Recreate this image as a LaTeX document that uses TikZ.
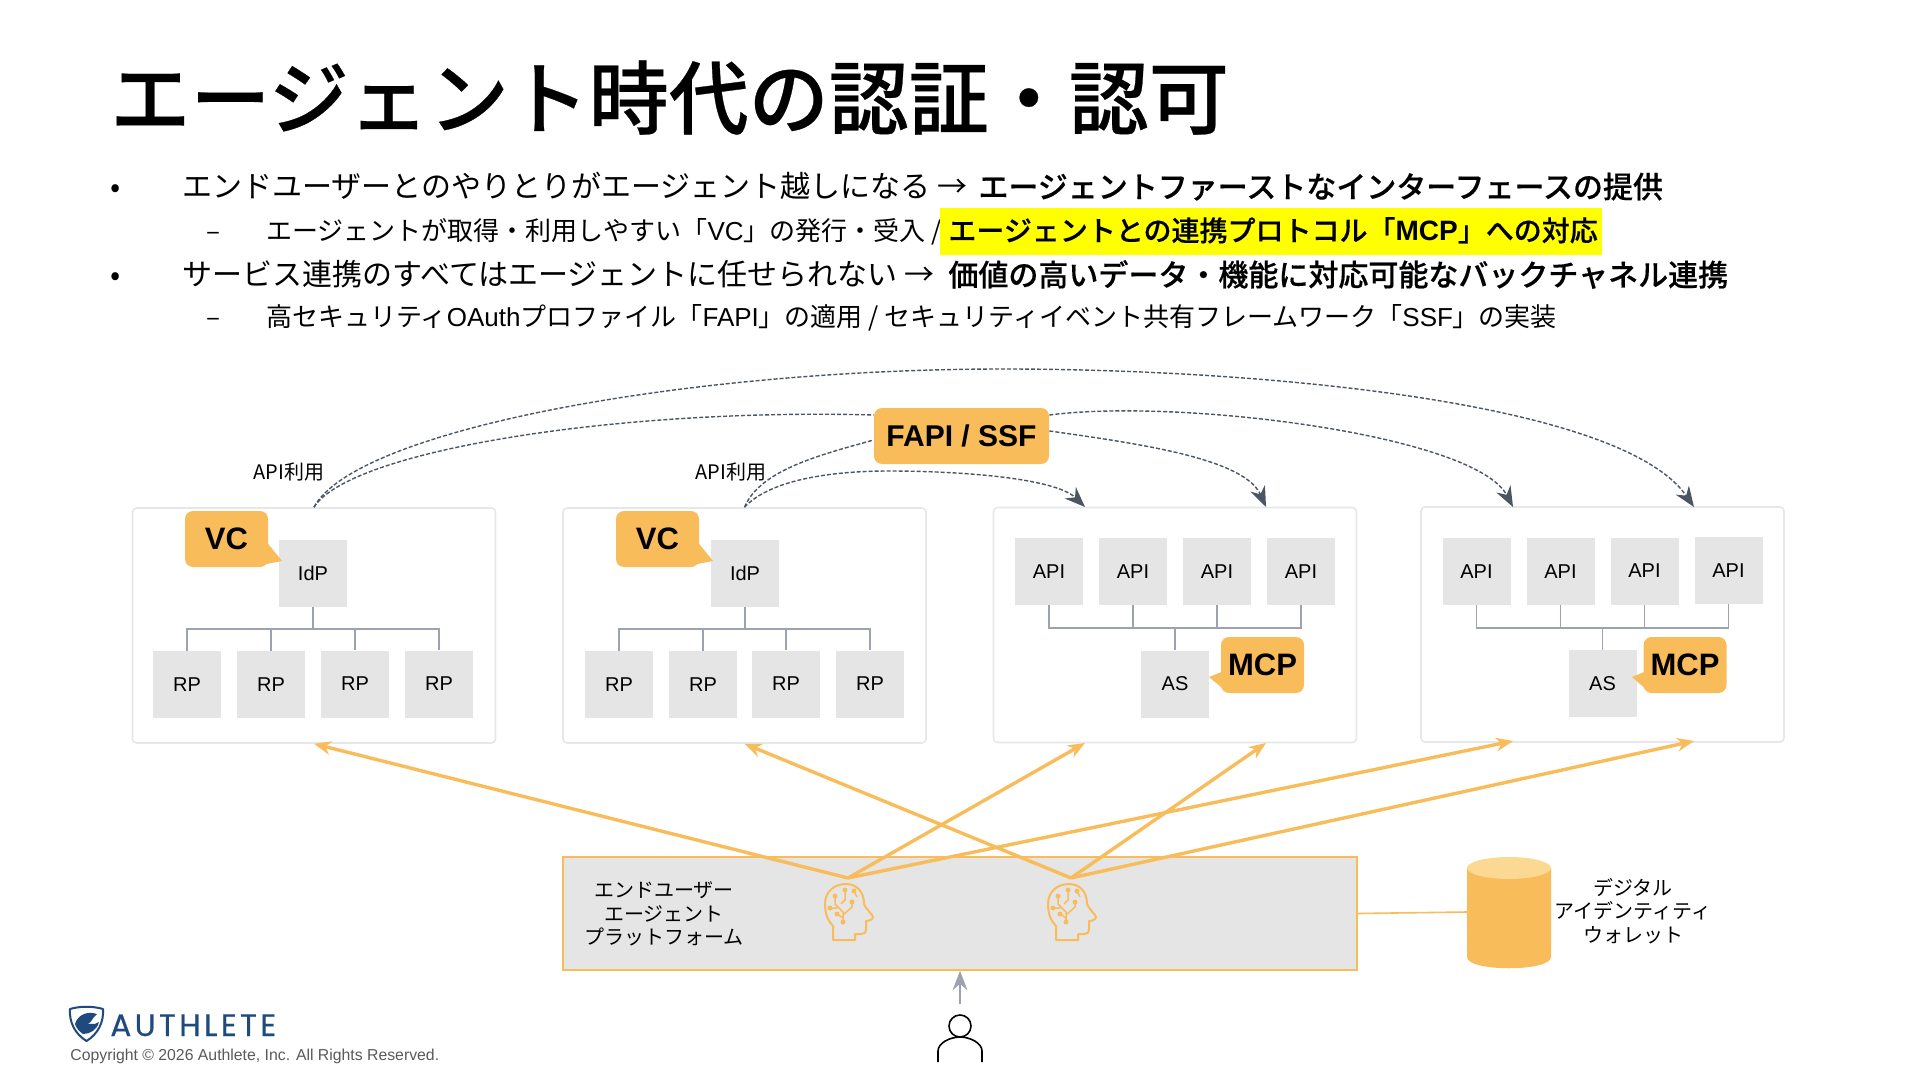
\documentclass[tikz,border=0pt]{standalone}
\usepackage{fontspec}
\setmainfont{Noto Sans CJK JP}
\newfontfamily\jpmed[UprightFont=* Medium,FakeBold=0.35]{Noto Sans CJK JP}
\newfontfamily\ltn{Liberation Sans}
\newfontfamily\logofont[LetterSpace=11,FakeBold=0.5]{Poppins}
\usetikzlibrary{arrows.meta,calc}
\definecolor{tagorange}{HTML}{F9BC5B}
\definecolor{taglight}{HTML}{FCD992}
\definecolor{cellgray}{HTML}{E5E5E5}
\definecolor{zoneline}{HTML}{E5E7EB}
\definecolor{treeline}{HTML}{9CA3AF}
\definecolor{dashline}{HTML}{4B5563}
\definecolor{logoblue}{HTML}{1F4A7D}
\definecolor{marker}{HTML}{FFFF00}

\begin{document}
\begin{tikzpicture}[x=0.5pt, y=-0.5pt, >={Latex[length=2mm]},
	zone/.style={draw=zoneline, line width=0.8pt, fill=white, rounded corners=2pt, minimum width=181.5pt, minimum height=117.5pt, inner sep=0pt},
	cell/.style={fill=cellgray, minimum width=34pt, minimum height=33.5pt, inner sep=0pt, font=\ltn\fontsize{10}{12}\selectfont},
	tag/.style={fill=tagorange, rounded corners=4pt, minimum width=41.5pt, minimum height=28pt, inner sep=0pt, font=\ltn\bfseries\fontsize{15.5}{18}\selectfont},
	tree/.style={draw=treeline, line width=0.7pt},
	useline/.style={draw=dashline, line width=0.7pt, dash pattern=on 2pt off 1pt},
	useapi/.style={useline, -{Stealth[length=3.6mm,width=2.8mm]}},
	agent/.style={draw=tagorange, line width=1.7pt, -{Stealth[length=3mm,width=2.4mm]}},
	body/.style={anchor=base west, inner sep=0pt, font=\fontsize{15}{18}\selectfont},
	sub/.style={anchor=base west, inner sep=0pt, font=\fontsize{13}{16}\selectfont},
	small/.style={align=center, inner sep=0pt, font=\fontsize{10}{11.8}\selectfont},
	brainhead/.pic={
		\draw[tagorange, line width=1pt, line join=round, fill=none] (-16,28) -- (-16,14) .. controls (-21,9) and (-24,2) .. (-24,-8) .. controls (-24,-21) and (-14,-28) .. (-3,-28) .. controls (8,-28) and (15,-20) .. (15,-8) .. controls (16,-4) and (24,3) .. (24,5) .. controls (24,8) and (19,9) .. (17,9) -- (17,17) .. controls (17,21) and (15,22) .. (12,22) -- (6,22) -- (6,28) -- cycle;
		\draw[tagorange, line width=0.75pt] (-4,-22) -- (-4,-12) -- (-8,-8) (-14,-16) -- (-14,-8) -- (-6,0) -- (-6,10) (-19,-4) -- (-12,-4) (-6,3) -- (3,-5) -- (3,-10) (5,-21) -- (8,-15) (-6,6) -- (-12,2);
		\fill[tagorange] (-4,-22) circle (2.5) (-14,-16) circle (2.5) (-19,-4) circle (2.5) (3,-10) circle (2.5) (5,-21) circle (2.5) (-6,10) circle (2.5) (-12,2) circle (2.5);
	}]
	\useasboundingbox (0,0) rectangle (1920,1080);

	% heading and bullets
	\node[anchor=base west, inner sep=0pt, font=\jpmed\fontsize{40}{48}\selectfont] (title) at (110,128) {エージェント時代の認証・認可};
	\node[body] (dota) at (110,198) {•};
	\node[body] (texta) at (182,198) {エンドユーザーとのやりとりがエージェント越しになる →};
	\node[body, font=\jpmed\fontsize{15}{18}\selectfont] (boldedA) at (978,198) {エージェントファーストなインターフェースの提供};
	\node[sub] (dasha) at (206,241) {–};
	\node[sub] (textb) at (266,241) {エージェントが取得・利用しやすい「{\ltn VC}」の発行・受入 /};
	\fill[marker] (940,208) rectangle (1602,255);
	\node[sub, font=\jpmed\fontsize{14}{16}\selectfont] (marked) at (948,241) {エージェントとの連携プロトコル「{\ltn\bfseries MCP}」への対応};
	\node[body] (dotb) at (110,286) {•};
	\node[body] (textc) at (182,286) {サービス連携のすべてはエージェントに任せられない →};
	\node[body, font=\jpmed\fontsize{15}{18}\selectfont] (boldedB) at (948,286) {価値の高いデータ・機能に対応可能なバックチャネル連携};
	\node[sub] (dashb) at (206,327) {–};
	\node[sub] (textd) at (266,327) {高セキュリティ{\ltn OAuth}プロファイル「{\ltn FAPI}」の適用 / セキュリティイベント共有フレームワーク「{\ltn SSF}」の実装};

	% zones
	\node[zone] (zonea) at (314,625.5) {};
	\node[zone] (zoneb) at (744.5,625.5) {};
	\node[zone] (zonec) at (1175,625) {};
	\node[zone] (zoned) at (1602.5,624.5) {};
	\coordinate (buspa) at (0,629); \coordinate (buspc) at (0,628);

	\node[cell] (idpa) at (313,573) {IdP};
	\node[cell] (rpa) at (187,684.5) {RP}; \node[cell] (rpb) at (271,684.5) {RP}; \node[cell] (rpc) at (355,684) {RP}; \node[cell] (rpd) at (439,684) {RP};
	\draw[tree] (idpa.south) -- (idpa.south |- buspa) (rpa.north) |- (buspa -| rpd.north) -- (rpd.north) (rpb.north) -- (rpb.north |- buspa) (rpc.north) -- (rpc.north |- buspa);
	\node[cell] (idpb) at (745,573) {IdP};
	\node[cell] (rpe) at (619,684.5) {RP}; \node[cell] (rpf) at (703,684.5) {RP}; \node[cell] (rpg) at (786,684) {RP}; \node[cell] (rph) at (870,684) {RP};
	\draw[tree] (idpb.south) -- (idpb.south |- buspa) (rpe.north) |- (buspa -| rph.north) -- (rph.north) (rpf.north) -- (rpf.north |- buspa) (rpg.north) -- (rpg.north |- buspa);

	\node[cell] (apia) at (1049,571.5) {API}; \node[cell] (apib) at (1133,571.5) {API}; \node[cell] (apic) at (1217,571.5) {API}; \node[cell] (apid) at (1301,571.5) {API};
	\node[cell] (asa) at (1175,684) {AS};
	\draw[tree] (asa.north) -- (asa.north |- buspc) (apia.south) |- (buspc -| apid.south) -- (apid.south) (apib.south) -- (apib.south |- buspc) (apic.south) -- (apic.south |- buspc);
	\node[cell] (apie) at (1476.5,571.5) {API}; \node[cell] (apif) at (1560.5,571.5) {API}; \node[cell] (apig) at (1644.5,571) {API}; \node[cell] (apih) at (1728.5,570.5) {API};
	\node[cell] (asb) at (1602.5,683.5) {AS};
	\draw[tree] (asb.north) -- (asb.north |- buspc) (apie.south) |- (buspc -| apih.south) -- (apih.south) (apif.south) -- (apif.south |- buspc) (apig.south) -- (apig.south |- buspc);

	% tags on the zones
	\node[tag] (vca) at (226.5,539) {VC};
	\fill[tagorange] ($(vca.east)+(-1,4)$) -- (282,561) -- ($(vca.south east)+(-4,-3)$) -- cycle;
	\node[tag] (vcb) at (657.5,539) {VC};
	\fill[tagorange] ($(vcb.east)+(-1,4)$) -- (713,561) -- ($(vcb.south east)+(-4,-3)$) -- cycle;
	\node[tag] (mcpa) at (1262.5,665) {MCP};
	\fill[tagorange] ($(mcpa.west)+(1,7)$) -- (1209,677) -- ($(mcpa.south west)+(2,-5)$) -- cycle;
	\node[tag] (mcpb) at (1685,665) {MCP};
	\fill[tagorange] ($(mcpb.west)+(1,7)$) -- (1632,677) -- ($(mcpb.south west)+(2,-5)$) -- cycle;

	\node[small] (usea) at (289,472) {API利用};
	\node[small] (useb) at (731,472) {API利用};

	% targets on the top and bottom edges
	\coordinate (inca) at (1085,507); \coordinate (incb) at (1266,507); \coordinate (inda) at (1513,507); \coordinate (indb) at (1694,507);
	\coordinate (outca) at (1085,743); \coordinate (outcb) at (1266,743); \coordinate (outda) at (1513,741); \coordinate (outdb) at (1694,741);

	\node[tag, minimum width=87.5pt, font=\ltn\bfseries\fontsize{15}{18}\selectfont] (fapi) at (961.5,436) {FAPI / SSF};
	\draw[useapi] (zonea.north) .. controls (355,430) and (685,369) .. (1004,369) .. controls (1250,369) and (1620,400) .. (indb);
	\draw[useline] (zonea.north) .. controls (350,450) and (620,408) .. (fapi.north west |- 0,415);
	\draw[useapi] (fapi.north east |- 0,415) .. controls (1180,398) and (1475,435) .. (inda);
	\draw[useline] (zoneb.north) .. controls (760,470) and (820,455) .. (fapi.west |- 0,440);
	\draw[useapi] (fapi.east |- 0,431) .. controls (1150,445) and (1245,460) .. (incb);
	\draw[useapi] (zoneb.north) .. controls (770,480) and (830,471) .. (889,471) .. controls (960,471) and (1055,478) .. (inca);

	% platform
	\node[draw=tagorange, line width=0.8pt, fill=cellgray, minimum width=397pt, minimum height=56.5pt, inner sep=0pt] (platform) at (960,913.5) {};
	\node[small] (platformtext) at (664,914) {エンドユーザー\\エージェント\\プラットフォーム};
	\pic at (849,912) {brainhead};
	\pic at (1072,912) {brainhead};
	\coordinate (agenta) at (848,878); \coordinate (agentb) at (1071,878);
	\draw[agent] (agenta) -- (zonea.south);
	\draw[agent] (agenta) -- (outca);
	\draw[agent] (agenta) -- (outda);
	\draw[agent] (agentb) -- (zoneb.south);
	\draw[agent] (agentb) -- (outcb);
	\draw[agent] (agentb) -- (outdb);

	% wallet
	\coordinate (wallet) at (1467,912);
	\draw[tagorange, line width=0.8pt] (platform.east) -- (wallet);
	\fill[tagorange] (1467,868) -- (1467,957) .. controls (1467,972) and (1551,972) .. (1551,957) -- (1551,868) -- cycle;
	\fill[taglight] (1509,868) ellipse [x radius=42, y radius=11];
	\node[small] (wallettext) at (1633,911) {デジタル\\アイデンティティ\\ウォレット};

	% user
	\coordinate (user) at (960,1004);
	\draw[treeline, line width=0.8pt, -{Stealth[length=3.4mm,width=2.6mm]}] (user) -- (platform.south);
	\draw[black, line width=0.8pt] (960,1026) circle (11);
	\draw[black, line width=0.8pt] (938,1062) -- (938,1051) .. controls (938,1043) and (950,1037) .. (960,1037) .. controls (970,1037) and (982,1043) .. (982,1051) -- (982,1062);

	% logo and copyright
	\draw[logoblue, line width=1pt, line join=round] (70,1009) .. controls (80,1006) and (93,1006) .. (103,1009) .. controls (104,1022) and (98,1034) .. (86.5,1041) .. controls (75,1034) and (69,1022) .. (70,1009) -- cycle;
	\fill[logoblue] (75,1024) .. controls (78,1014) and (88,1011) .. (97,1014) .. controls (92,1018) and (92,1022) .. (88,1024) .. controls (95,1024) and (97,1024) .. (99,1022) .. controls (97,1030) and (90,1034) .. (83,1034) .. controls (80,1032) and (76,1028) .. (75,1024) -- cycle;
	\node[anchor=base west, inner sep=0pt, text=logoblue, font=\logofont\fontsize{15.5}{18}\selectfont] (logo) at (110,1036) {AUTHLETE};
	\node[anchor=base west, inner sep=0pt, text=black!65, font=\ltn\fontsize{7.9}{10}\selectfont] (copyright) at (70,1060) {Copyright © 2026 Authlete, Inc. All Rights Reserved.};
\end{tikzpicture}
\end{document}
